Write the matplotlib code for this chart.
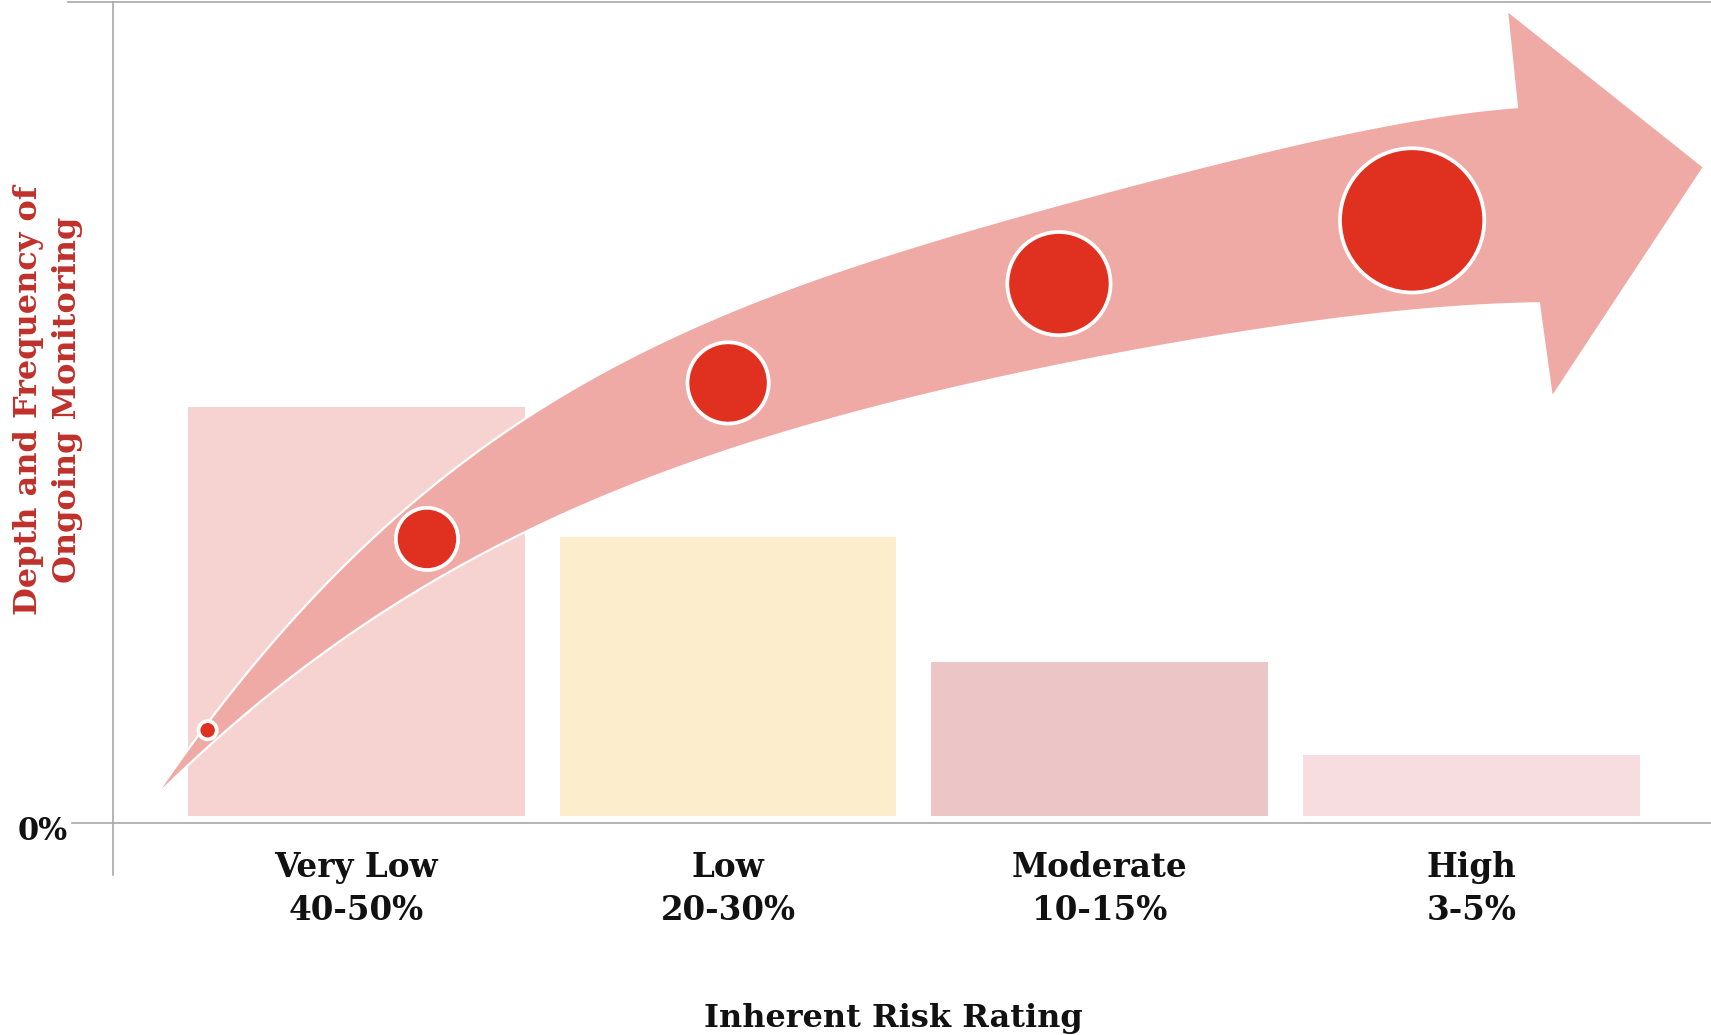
import numpy as np
import matplotlib
matplotlib.use("Agg")
import matplotlib.pyplot as plt
from matplotlib.patches import Polygon

plt.rcParams['font.family'] = 'DejaVu Serif'

# DATA ---------------------------------------------------------------
categories = ["Very Low", "Low", "Moderate", "High"]
shares = ["40-50%", "20-30%", "10-15%", "3-5%"]
bar_tops = [50.7, 34.8, 19.6, 8.3]          # share of population (relative)
bar_base = 0.85
bar_colors = ["#F6D3D1", "#FCEECD", "#ECC6C7", "#F7DDE0"]

# monitoring intensity bubbles along the arrow
circle_x = [-0.40, 0.19, 1.00, 1.89, 2.84]
circle_y = [11.3, 34.6, 53.6, 65.7, 73.4]
circle_d = [22, 66, 85, 107, 148]           # outer diameter, px

# arrow outline (decoration), traced points in data coords
arrow_upper = [(-0.545, 3.0), (-0.402, 12.0), (-0.171, 24.6), (0.138, 38.2),
               (0.448, 50.0), (0.655, 54.6), (0.789, 57.4), (1.093, 63.7),
               (1.622, 72.0), (1.819, 74.3), (2.483, 82.6), (2.805, 84.8),
               (3.122, 87.2)]
arrow_head = [(3.095, 99.0), (3.625, 79.9), (3.216, 51.8)]
arrow_lower = [(3.181, 63.3), (2.805, 62.1), (2.536, 61.0), (2.160, 58.0),
               (1.703, 54.0), (1.246, 48.7), (0.843, 43.0), (0.386, 33.9),
               (0.125, 27.2), (-0.152, 18.6), (-0.402, 9.1), (-0.545, 3.0)]
# --------------------------------------------------------------------

arrow_col = "#F0AAA5"
dot_col = "#DF3020"
line_col = "#A8A8A8"
label_red = "#C0302A"


def smooth_edge(pts, deg=5, n=200):
    # smooth the traced outline, keeping both ends in place
    p = np.array(pts)
    w = np.ones(len(p))
    w[0] = w[-1] = 30
    coef = np.polyfit(p[:, 0], p[:, 1], deg, w=w)
    xs = np.linspace(p[0, 0], p[-1, 0], n)
    return np.c_[xs, np.polyval(coef, xs)]


fig = plt.figure(figsize=(17.11, 10.35), dpi=100)
ax = fig.add_axes([113 / 1711, 212 / 1035, 1598 / 1711, 821 / 1035])
ax.set_xlim(-0.6546, 3.644)
ax.set_ylim(0, 100)
for s in ax.spines.values():
    s.set_visible(False)

x = np.arange(len(categories))
heights = np.array(bar_tops) - bar_base
ax.bar(x, heights, bottom=bar_base, width=0.906, color=bar_colors, zorder=1)

# arrow
outline = np.vstack([smooth_edge(arrow_upper), np.array(arrow_head),
                     smooth_edge(arrow_lower)])
ax.add_patch(Polygon(outline, closed=True, facecolor=arrow_col, edgecolor="white",
                     lw=1.6, joinstyle="miter", zorder=2, clip_on=False))

# bubbles
ring = 2.7
sizes = [(d * 0.72 - ring) ** 2 for d in circle_d]
ax.scatter(circle_x, circle_y, s=sizes, color=dot_col, edgecolors="white",
           linewidths=ring, zorder=3, clip_on=False)

# axis lines
ax.plot([-0.776, 3.644], [100, 100], color=line_col, lw=1.2, clip_on=False, zorder=0)
ax.plot([-0.765, 3.644], [0, 0], color=line_col, lw=1.2, clip_on=False, zorder=0)
ax.plot([-0.6546, -0.6546], [100, -6.3], color=line_col, lw=1.2, clip_on=False, zorder=0)

ax.set_yticks([])
ax.set_xticks(x, [f"{a}\n{b}" for a, b in zip(categories, shares)],
              fontsize=23.5, fontweight="bold", color="#111111", linespacing=1.4)
ax.tick_params(axis="x", length=0, pad=20)

ax.text(-0.776, -1.0, "0%", ha="right", va="center", fontsize=22,
        fontweight="bold", color="#111111")

fig.text(893 / 1711, 8 / 1035, "Inherent Risk Rating", ha="center", va="baseline",
         fontsize=23, fontweight="bold", color="#111111")
fig.text(48 / 1711, 1 - 400 / 1035, "Depth and Frequency of\nOngoing Monitoring",
         rotation=90, ha="center", va="center", multialignment="center",
         fontsize=23, fontweight="bold", color=label_red, linespacing=1.35)

fig.savefig("out.png", dpi=100)
